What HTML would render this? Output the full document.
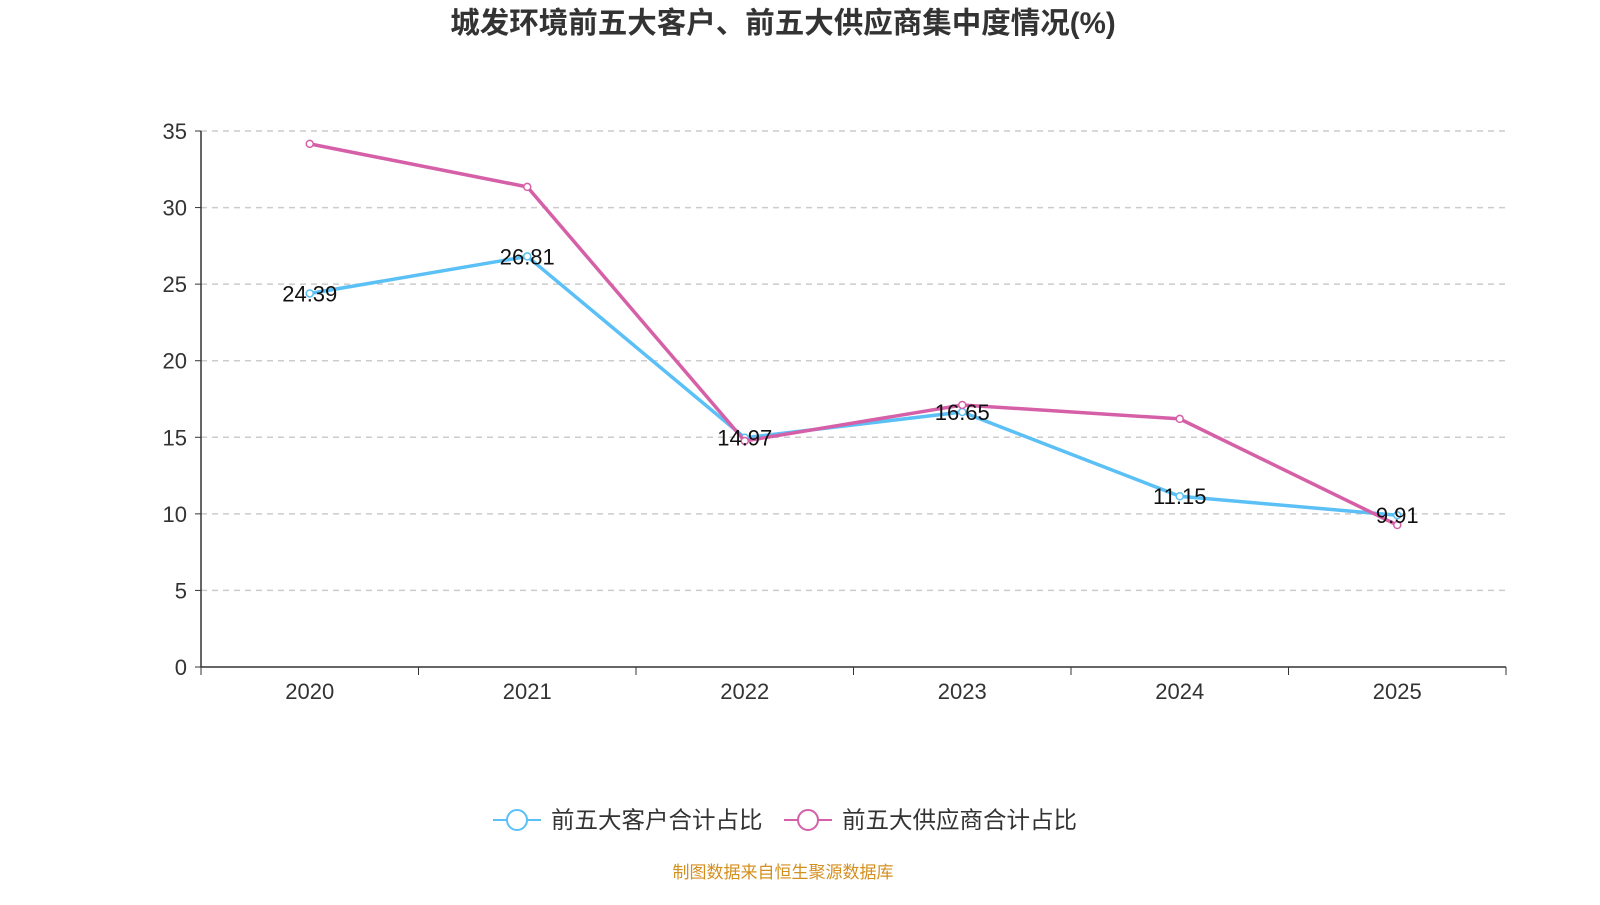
<!DOCTYPE html>
<html><head><meta charset="utf-8"><style>
body{margin:0;background:#fff;width:1600px;height:900px;overflow:hidden;font-family:"Liberation Sans","Noto Sans CJK SC",sans-serif;}
</style></head><body>
<svg id="chart" width="1600" height="900" xmlns="http://www.w3.org/2000/svg">
<text x="783" y="33" text-anchor="middle" font-size="29.5" font-weight="bold" fill="#333" font-family="Liberation Sans, Noto Sans CJK SC, sans-serif">城发环境前五大客户、前五大供应商集中度情况(%)</text>
<g id="grid"></g><g id="axes"></g><g id="series"></g>
<g>
<g>
<line x1="493" y1="820" x2="541" y2="820" stroke="#5bc0f5" stroke-width="2"/>
<circle cx="517" cy="820" r="10" fill="#fff" stroke="#5bc0f5" stroke-width="2"/>
<text x="551" y="828" font-size="23.5" fill="#333">前五大客户合计占比</text></g>
<g>
<line x1="784" y1="820" x2="832" y2="820" stroke="#d660a8" stroke-width="2"/>
<circle cx="808" cy="820" r="10" fill="#fff" stroke="#d660a8" stroke-width="2"/>
<text x="842" y="828" font-size="23.5" fill="#333">前五大供应商合计占比</text></g>
</g>
<text x="783" y="878" text-anchor="middle" font-size="17" fill="#d4901f">制图数据来自恒生聚源数据库</text>
</svg>
<script>
const categories=["2020","2021","2022","2023","2024","2025"];
const customers=[24.39,26.81,14.97,16.65,11.15,9.91];
const suppliers=[34.16,31.35,14.76,17.11,16.2,9.27];
const yTicks=[0,5,10,15,20,25,30,35];
const NS="http://www.w3.org/2000/svg";
const x0=201,x1=1506,y0=667,y1=131,yMax=35;
const bw=(x1-x0)/categories.length;
const xs=i=>x0+bw*(i+0.5);
const ys=v=>y0-(v/yMax)*(y0-y1);
function mk(tag,attrs,parent,txt){const e=document.createElementNS(NS,tag);for(const k in attrs)e.setAttribute(k,attrs[k]);if(txt!=null)e.textContent=txt;document.getElementById(parent).appendChild(e);return e;}
yTicks.forEach(t=>{
  const y=ys(t);
  if(t>0){const g=mk('line',{x1:x0,x2:x1,y1:y,y2:y,stroke:'#ccc','stroke-dasharray':'6,5','stroke-width':1.5},'grid');
  
  }
  mk('line',{x1:x0-6,x2:x0,y1:y,y2:y,stroke:'#333'},'axes');
  const l=mk('text',{x:x0-14,y:y+8,'text-anchor':'end','font-size':22,fill:'#333'},'axes',t);
  
  
});
mk('line',{x1:x0,x2:x0,y1:y1,y2:y0,stroke:'#333','stroke-width':1.5},'axes');
mk('line',{x1:x0,x2:x1,y1:y0,y2:y0,stroke:'#333','stroke-width':1.5},'axes');
for(let i=0;i<=categories.length;i++)mk('line',{x1:x0+bw*i,x2:x0+bw*i,y1:y0,y2:y0+8,stroke:'#333'},'axes');
categories.forEach((c,i)=>{const l=mk('text',{x:xs(i),y:699,'text-anchor':'middle','font-size':22,fill:'#333'},'axes',c);

});
function series(vals,color,name){
  const p=mk('polyline',{points:vals.map((v,i)=>xs(i)+','+ys(v)).join(' '),fill:'none',stroke:color,'stroke-width':3.5},'series');
  
  
  vals.forEach((v,i)=>{const c=mk('circle',{cx:xs(i),cy:ys(v),r:3.5,fill:'#fff',stroke:color,'stroke-width':1.5},'series');
  
  });
}
series(customers,'#5bc0f5','customers');
series(suppliers,'#d660a8','suppliers');
customers.forEach((v,i)=>{const t=mk('text',{x:xs(i),y:ys(v)+8,'text-anchor':'middle','font-size':22,fill:'#111'},'series',v.toFixed(2));

});
</script>
</body></html>
